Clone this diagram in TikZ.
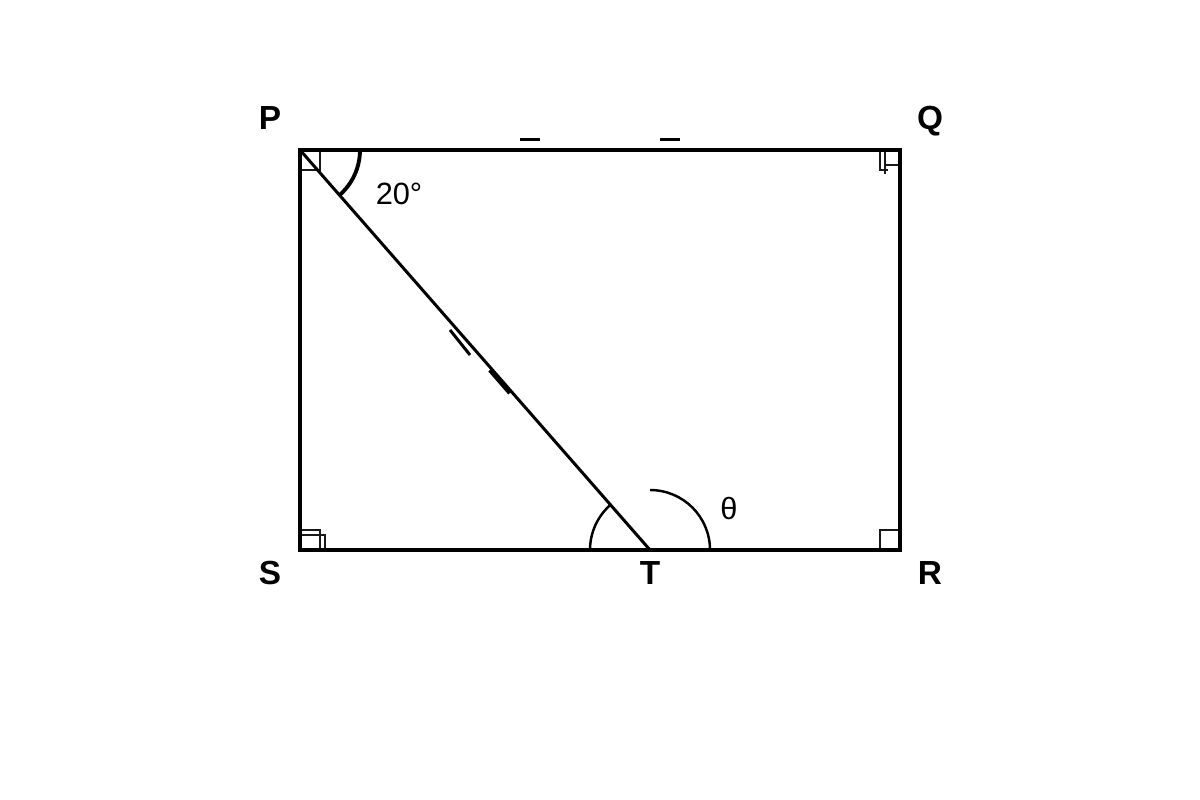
\documentclass[tikz,border=0pt]{standalone}
\usepackage{fontspec}
\setmainfont{Liberation Sans}
\usetikzlibrary{calc}
\tikzset{
x=0.02cm, y=0.02cm,
side/.style={line width=2.3pt, line cap=rect},
chord/.style={line width=1.7pt},
anglearc/.style={line width=1.4pt},
bigarc/.style={line width=2.2pt},
rightsq/.style={line width=1.3pt, black!90},
tick/.style={line width=1.7pt},
vertex/.style={font=\fontsize{19}{20}\selectfont\bfseries, inner sep=0pt},
anglelabel/.style={font=\fontsize{17.5}{18}\selectfont, inner sep=0pt},
}
\begin{document}
\begin{tikzpicture}
	\useasboundingbox (0,0) rectangle (1200,800);
	\coordinate (P) at (300,650);
	\coordinate (Q) at (900,650);
	\coordinate (R) at (900,250);
	\coordinate (S) at (300,250);
	\coordinate (T) at (650,250);

	% right angle marks
	\draw[rightsq] (P) ++(0,-20) -| ++(20,20);
	\draw[rightsq] (880,650) -- (880,630) -- (888,630);
	\draw[rightsq] (885,650) -- (885,626);
	\draw[rightsq] (885,635) -- (900,635);
	\draw[rightsq] (300,270) -| (320,250);
	\draw[rightsq] (300,265) -| (325,250);
	\draw[rightsq] (R) ++(-20,0) |- ++(20,20);

	% rectangle and chord
	\draw[side] (P) -- (Q) -- (R) -- (S) -- cycle;
	\draw[chord] (P) -- (T);

	% angles
	\draw[bigarc] (360,650) arc[start angle=0, end angle=-48.81, radius=1.2cm];
	\draw[anglearc] (590,250) arc[start angle=180, end angle=131.19, radius=1.2cm];
	\draw[anglearc] (710,250) arc[start angle=0, end angle=90, radius=1.2cm];

	% equal marks
	\draw[tick] (520,660) -- (540,660);
	\draw[tick] (660,660) -- (680,660);
	\draw[tick] (450,470) -- (470,445);
	\draw[line width=2.6pt] (490,430) -- (510,407);

	\node[vertex] (lP) at (270,682) {P};
	\node[vertex] (lQ) at (930,679) {Q};
	\node[vertex] (lS) at (270,227) {S};
	\node[vertex] (lR) at (930,227) {R};
	\node[vertex] (lT) at (650,227) {T};
	\node[anglelabel] (a20) at (399,606) {20°};
	\node[anglelabel] (ath) at (729,291) {θ};
\end{tikzpicture}
\end{document}
